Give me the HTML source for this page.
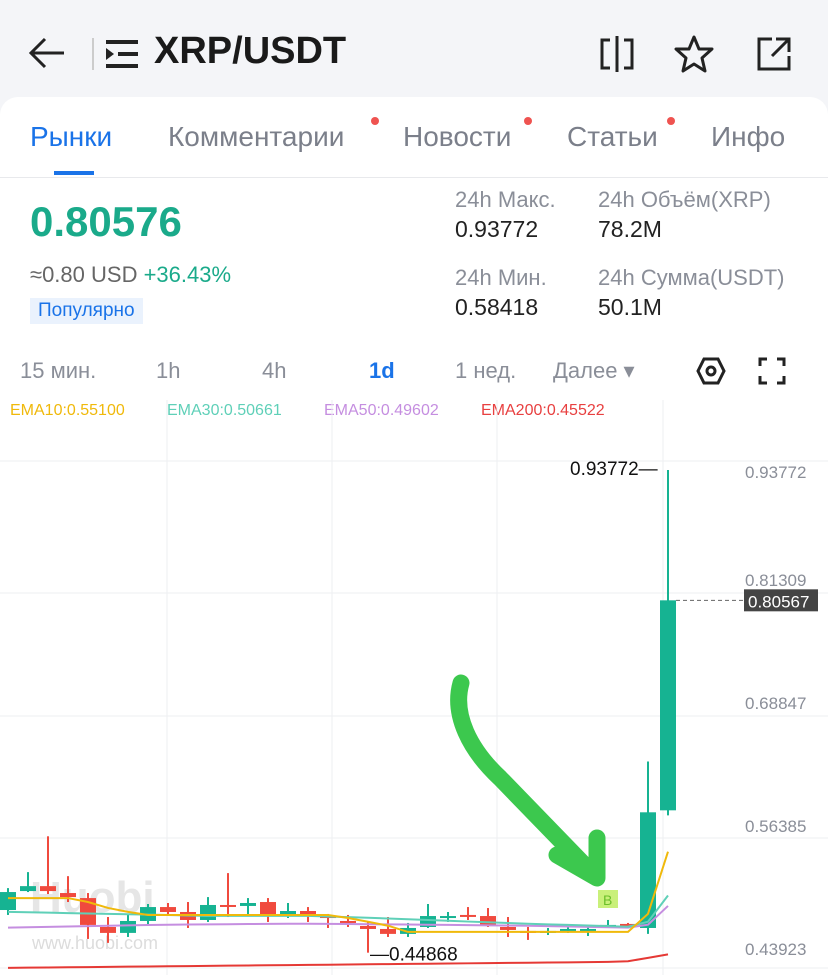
<!DOCTYPE html>
<html><head><meta charset="utf-8">
<style>
body{margin:0;width:828px;height:975px;overflow:hidden;background:#f4f5f8;font-family:"Liberation Sans","Noto Sans CJK SC",sans-serif;position:relative}
.a{position:absolute;white-space:nowrap}
.card{position:absolute;left:0;top:97px;width:828px;height:878px;background:#fff;border-radius:18px 18px 0 0}
.tab{position:absolute;top:121px;font-size:28px;color:#7b7f8a}
.dot{position:absolute;width:8px;height:8px;border-radius:50%;background:#ef5350}
.lbl{font-size:22px;color:#8a8e98}
.val{font-size:23px;color:#222}
.tf{position:absolute;top:358px;font-size:22px;color:#8a8e98}
</style></head><body>
<svg class="a" style="left:28px;top:36px" width="38" height="34"><path d="M36 17H4M17 3L3 17l14 14" fill="none" stroke="#222" stroke-width="3"/></svg>
<div class="a" style="left:92px;top:38px;width:2px;height:32px;background:#ccc"></div>
<div class="a" style="left:106px;top:40px;width:32px;height:28px">
<div style="position:absolute;left:0;top:0;width:32px;height:4px;background:#222"></div>
<div style="position:absolute;left:12px;top:12px;width:20px;height:4px;background:#222"></div>
<div style="position:absolute;left:0;top:24px;width:32px;height:4px;background:#222"></div>
<div style="position:absolute;left:0;top:8px;width:0;height:0;border-left:8px solid #222;border-top:6px solid transparent;border-bottom:6px solid transparent"></div></div>
<div class="a" style="left:154px;top:30px;font-size:38px;font-weight:bold;color:#1a1a1a">XRP/USDT</div>
<svg class="a" style="left:598px;top:36px" width="40" height="36"><path d="M12 4H4v28h8M26 4h8v28h-8" fill="none" stroke="#222" stroke-width="3"/><line x1="19" y1="0" x2="19" y2="36" stroke="#222" stroke-width="3"/></svg>
<svg class="a" style="left:674px;top:34px" width="40" height="40"><polygon points="20,3 25,15 38,15 28,24 31,37 20,30 9,37 12,24 2,15 15,15" fill="none" stroke="#222" stroke-width="3" stroke-linejoin="round"/></svg>
<svg class="a" style="left:756px;top:36px" width="36" height="36"><path d="M16 3H3v30h30V20M20 3h13v13M33 3L16 20" fill="none" stroke="#222" stroke-width="3"/></svg>
<div class="card"></div>
<div class="tab" style="left:30px;color:#1a73e8">Рынки</div>
<div class="a" style="left:54px;top:171px;width:40px;height:4px;background:#1a73e8"></div>
<div class="tab" style="left:168px">Комментарии</div>
<div class="dot" style="left:371px;top:117px"></div>
<div class="tab" style="left:403px">Новости</div>
<div class="dot" style="left:524px;top:117px"></div>
<div class="tab" style="left:567px">Статьи</div>
<div class="dot" style="left:667px;top:117px"></div>
<div class="tab" style="left:711px">Инфо</div>
<div class="a" style="left:0;top:177px;width:828px;height:1px;background:#e8e9ec"></div>
<div class="a" style="left:30px;top:198px;font-size:42px;color:#1aaa8a;font-weight:bold">0.80576</div>
<div class="a" style="left:30px;top:262px;font-size:22px;color:#666">≈0.80 USD <span style="color:#1aaa8a">+36.43%</span></div>
<div class="a" style="left:30px;top:298px;padding:2px 8px;font-size:19px;color:#1a73e8;background:#eaf2fd">Популярно</div>
<div class="a lbl" style="left:455px;top:187px">24h Макс.</div>
<div class="a val" style="left:455px;top:216px">0.93772</div>
<div class="a lbl" style="left:598px;top:187px">24h Объём(XRP)</div>
<div class="a val" style="left:598px;top:216px">78.2M</div>
<div class="a lbl" style="left:455px;top:265px">24h Мин.</div>
<div class="a val" style="left:455px;top:294px">0.58418</div>
<div class="a lbl" style="left:598px;top:265px">24h Сумма(USDT)</div>
<div class="a val" style="left:598px;top:294px">50.1M</div>
<div class="tf" style="left:20px">15 мин.</div>
<div class="tf" style="left:156px">1h</div>
<div class="tf" style="left:262px">4h</div>
<div class="tf" style="left:369px;color:#1a73e8;font-weight:bold">1d</div>
<div class="tf" style="left:455px">1 нед.</div>
<div class="tf" style="left:553px">Далее ▾</div>
<svg class="a" style="left:696px;top:356px" width="30" height="30"><polygon points="8,3 22,3 28,15 22,27 8,27 2,15" fill="none" stroke="#222" stroke-width="3"/><circle cx="15" cy="15" r="4" fill="none" stroke="#222" stroke-width="3"/></svg>
<svg class="a" style="left:758px;top:357px" width="28" height="28"><path d="M2 9V2h7M19 2h7v7M26 19v7h-7M9 26H2v-7" fill="none" stroke="#222" stroke-width="3"/></svg>
<div class="a" style="left:10px;top:402px;font-size:16px;color:#f0b90b">EMA10:0.55100</div>
<div class="a" style="left:167px;top:402px;font-size:16px;color:#5fd0b8">EMA30:0.50661</div>
<div class="a" style="left:324px;top:402px;font-size:16px;color:#c58ee0">EMA50:0.49602</div>
<div class="a" style="left:481px;top:402px;font-size:16px;color:#e84040">EMA200:0.45522</div>
<svg id="chart" class="a" style="left:0;top:0" width="828" height="975"></svg>
<script>
const opens=[0.4919,0.5111,0.5161,0.5091,0.5040,0.4747,0.4687,0.4808,0.4949,0.4899,0.4818,0.4970,0.4960,0.5000,0.4858,0.4909,0.4858,0.4808,0.4757,0.4727,0.4677,0.4747,0.4848,0.4869,0.4858,0.4747,0.4707,0.4687,0.4707,0.4717,0.4757,0.4778,0.4737,0.5929];
const highs=[0.5141,0.5303,0.5666,0.5262,0.5091,0.4848,0.4869,0.4980,0.4990,0.5000,0.5050,0.5293,0.5040,0.5040,0.4990,0.4949,0.4879,0.4869,0.4798,0.4848,0.4788,0.4980,0.4899,0.4949,0.4939,0.4848,0.4747,0.4737,0.4768,0.4747,0.4818,0.4788,0.6424,0.93772];
const lows=[0.4869,0.5101,0.5081,0.5000,0.4626,0.4586,0.4646,0.4757,0.4869,0.4737,0.4798,0.4848,0.4869,0.4798,0.4838,0.4798,0.4737,0.4747,0.44868,0.4646,0.4646,0.4737,0.4798,0.4818,0.4747,0.4646,0.4616,0.4666,0.4687,0.4656,0.4737,0.4737,0.4677,0.5878];
const closes=[0.5101,0.5161,0.5111,0.5050,0.4768,0.4687,0.4808,0.4949,0.4899,0.4818,0.4970,0.4960,0.4990,0.4858,0.4909,0.4858,0.4838,0.4788,0.4727,0.4677,0.4737,0.4858,0.4858,0.4858,0.4768,0.4717,0.4687,0.4707,0.4727,0.4727,0.4768,0.4747,0.5909,0.80567];
const ema10=[0.504,0.504,0.504,0.504,0.500,0.494,0.490,0.4869,0.4869,0.4869,0.4869,0.4869,0.4869,0.4869,0.4869,0.4869,0.4869,0.4838,0.480,0.476,0.4697,0.4697,0.4697,0.4697,0.4697,0.4697,0.4697,0.4697,0.4697,0.4697,0.4697,0.4697,0.488,0.551];
const ema30=[0.490,0.4896,0.4892,0.4888,0.4884,0.488,0.4876,0.4872,0.4868,0.4864,0.486,0.486,0.486,0.486,0.486,0.486,0.4853,0.4847,0.484,0.4833,0.4825,0.4818,0.481,0.4802,0.4795,0.4788,0.478,0.4774,0.4768,0.4762,0.4756,0.475,0.480,0.50661];
const ema50=[0.474,0.4744,0.4748,0.4752,0.4756,0.476,0.4763,0.4767,0.477,0.4772,0.4773,0.4775,0.4777,0.4778,0.478,0.478,0.4778,0.4777,0.4775,0.4773,0.4772,0.477,0.4768,0.4766,0.4764,0.4762,0.476,0.4756,0.4752,0.4748,0.4744,0.474,0.477,0.49602];
const ema200=[0.4333,0.4335,0.4337,0.4339,0.4341,0.4343,0.4345,0.4347,0.4349,0.4351,0.4353,0.4355,0.4357,0.4359,0.4361,0.4363,0.4365,0.4367,0.4369,0.4371,0.4373,0.4375,0.4377,0.4379,0.4381,0.4383,0.4385,0.4387,0.4389,0.4391,0.4394,0.4400,0.4434,0.447];
const ticks=[0.93772,0.81309,0.68847,0.56385,0.43923];
const ns="http://www.w3.org/2000/svg";
const svg=document.getElementById('chart');
const y=p=>593-(p-0.81309)*987;
const x=i=>8+i*20;
function mk(t,a){const e=document.createElementNS(ns,t);for(const k in a)e.setAttribute(k,a[k]);svg.appendChild(e);return e;}
[461,593,716,838,968].forEach(g=>{const l=mk('line',{x1:0,x2:828,y1:g,y2:g,stroke:'#eeeff2','stroke-width':1});

});
[167,332,497,663].forEach(g=>{const l=mk('line',{x1:g,x2:g,y1:400,y2:975,stroke:'#eeeff2','stroke-width':1});

});
const wm=mk('text',{x:30,y:912,'font-size':44,'font-weight':'bold',fill:'#e6e6e6','font-family':'Liberation Sans'});wm.textContent='Huobi';


const wm2=mk('text',{x:32,y:949,'font-size':18,fill:'#dcdcdc','font-family':'Liberation Sans'});wm2.textContent='www.huobi.com';


ticks.forEach((t,i)=>{const ty=y(t);const tx=mk('text',{x:745,y:i==0?ty+8:ty-7,'font-size':17,fill:'#8a8e98','font-family':'Liberation Sans'});tx.textContent=t.toFixed(5);

});
for(let i=0;i<opens.length;i++){
 const up=closes[i]>=opens[i];const c=up?'#16b392':'#f04a3e';
 const w=mk('line',{x1:x(i),x2:x(i),y1:y(highs[i]),y2:y(lows[i]),stroke:c,'stroke-width':2});
 
 
 const top=y(Math.max(opens[i],closes[i])),bot=y(Math.min(opens[i],closes[i]));
 const b=mk('rect',{x:x(i)-8,y:top,width:16,height:Math.max(2,bot-top),fill:c});
 
 
}
[[ema200,'#e53935'],[ema50,'#c58ee0'],[ema30,'#5fd0b8'],[ema10,'#f0b90b']].forEach(([s,c])=>{
 const p=mk('polyline',{points:s.map((v,i)=>x(i)+','+y(v)).join(' '),fill:'none',stroke:c,'stroke-width':2});
 
 
});
const last=closes.length-1;
const dl=mk('line',{x1:x(last)+8,x2:744,y1:y(closes[last]),y2:y(closes[last]),stroke:'#666','stroke-dasharray':'4,3'});


const pb=mk('rect',{x:744,y:y(closes[last])-11,width:74,height:22,fill:'#444'});


const pt=mk('text',{x:748,y:y(closes[last])+7,'font-size':17,fill:'#fff','font-family':'Liberation Sans'});pt.textContent=closes[last].toFixed(5);


const hl=mk('text',{x:570,y:y(highs[last])+5,'font-size':19,fill:'#111','font-family':'Liberation Sans'});hl.textContent='0.93772—';


const ll=mk('text',{x:370,y:y(lows[18])+8,'font-size':19,fill:'#111','font-family':'Liberation Sans'});ll.textContent='—0.44868';


const bm=mk('rect',{x:598,y:890,width:20,height:18,fill:'#c9f07a'});


const bt=mk('text',{x:603,y:905,'font-size':14,fill:'#6cbf2a','font-family':'Liberation Sans'});bt.textContent='B';
const ar=mk('path',{d:'M461 683 C452 715 470 750 500 778 L597 878 M557 855 L597 878 L597 838',fill:'none',stroke:'#3cc84e','stroke-width':17,'stroke-linecap':'round','stroke-linejoin':'round'});


</script>
</body></html>
